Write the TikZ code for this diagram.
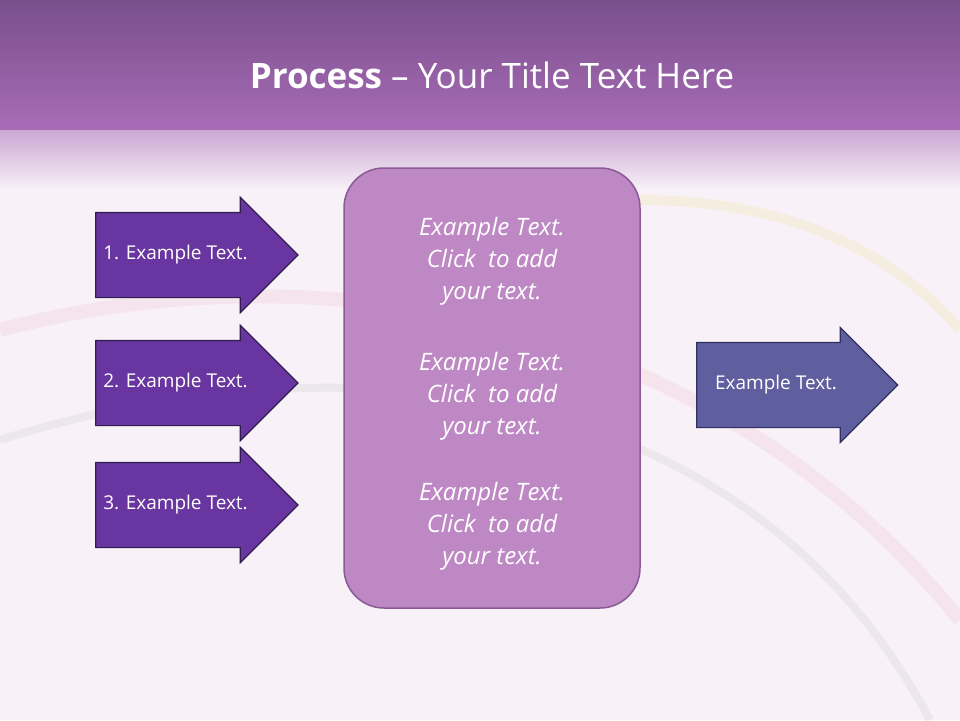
\documentclass[tikz,border=0pt]{standalone}
\usepackage{fontspec}
\setmainfont{Open Sans}
\usetikzlibrary{shapes.arrows}
\definecolor{bannertop}{HTML}{7A4F8C}
\definecolor{bannerbot}{HTML}{A86CB6}
\definecolor{pagebg}{HTML}{F8F1F8}
\definecolor{stepfill}{HTML}{6935A0}
\definecolor{stepline}{HTML}{2E1D4E}
\definecolor{outfill}{HTML}{5F5E9E}
\definecolor{outline}{HTML}{2F2F62}
\definecolor{boxfill}{HTML}{BE88C5}
\definecolor{boxline}{HTML}{8A5A96}
\tikzset{
  steparrow/.style={single arrow, draw=stepline, fill=stepfill, line width=1.2pt,
    minimum height=201pt, text height=12pt, text depth=4pt, inner ysep=34pt, inner xsep=7pt,
    single arrow head extend=15pt, single arrow tip angle=90,
    text=white, font=\fontsize{19}{22}\selectfont},
  result/.style={steparrow, draw=outline, fill=outfill, inner xsep=17pt},
  box/.style={draw=boxline, fill=boxfill, line width=1.5pt, rounded corners=40pt,
    minimum width=296pt, minimum height=440pt},
  blurb/.style={text=white, align=center, font=\itshape\fontsize{24}{32}\selectfont},
}
\begin{document}
\begin{tikzpicture}[x=1pt,y=-1pt]
\useasboundingbox (0,0) rectangle (960,720);
% background
\fill[pagebg] (0,0) rectangle (960,720);
\shade[top color=bannertop, bottom color=bannerbot] (0,0) rectangle (960,130);
\shade[top color=bannerbot!60!white, bottom color=pagebg] (0,130) rectangle (960,190);
\draw[purple!15, line width=14pt, opacity=.5] (0,330) .. controls (300,250) and (700,300) .. (960,620);
\draw[gray!25, line width=8pt, opacity=.5] (0,440) .. controls (350,330) and (750,380) .. (930,720);
\draw[green!20!orange!20, line width=10pt, opacity=.5] (640,200) .. controls (800,200) and (900,260) .. (960,330);
\node[text=white, font=\fontsize{35}{38}\selectfont] (title) at (492,75)
  {\textbf{Process} -- Your Title Text Here};
% steps
\node[steparrow] (s1) at (175.5,255) {1. Example Text.};
\node[steparrow] (s2) at (175.5,383) {2. Example Text.};
\node[steparrow] (s3) at (175.5,505) {3. Example Text.};
\node[box] (mid) at (492,388) {};
\node[blurb] (t1) at (492,261) {Example Text.\\Click\ \ to add\\your text.};
\node[blurb] (t2) at (492,396) {Example Text.\\Click\ \ to add\\your text.};
\node[blurb] (t3) at (492,526) {Example Text.\\Click\ \ to add\\your text.};
\node[result] (out) at (776,385) {Example Text.};
\end{tikzpicture}
\end{document}
